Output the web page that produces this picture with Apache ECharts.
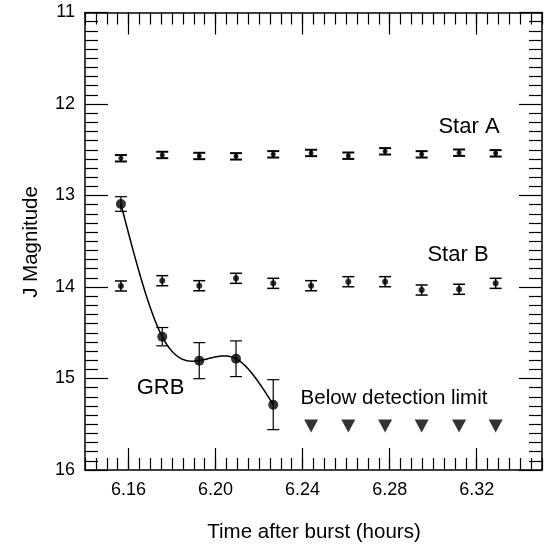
<!DOCTYPE html>
<html>
<head>
<meta charset="utf-8">
<script src="https://cdn.jsdelivr.net/npm/echarts@6/dist/echarts.min.js"></script>
<style>
  html, body { margin: 0; padding: 0; background: #fff; }
  #chart { width: 551px; height: 547px; }
</style>
</head>
<body>
<div id="chart"></div>
<script>
// observation times (hours after burst)
var times = [6.1565, 6.1755, 6.1925, 6.2094, 6.2265, 6.2439, 6.2610, 6.2779, 6.2947, 6.3119, 6.3287]
var starA = [12.593, 12.557, 12.568, 12.572, 12.550, 12.535, 12.565, 12.517, 12.550, 12.532, 12.539]
var starAErr = [0.035, 0.035, 0.035, 0.035, 0.035, 0.035, 0.035, 0.035, 0.035, 0.035, 0.035]
var starB = [13.989, 13.931, 13.986, 13.905, 13.960, 13.986, 13.942, 13.942, 14.033, 14.025, 13.960]
var starBErr = [0.055, 0.055, 0.055, 0.055, 0.055, 0.055, 0.055, 0.055, 0.055, 0.055, 0.055]
var grbTimes = [6.1565, 6.1755, 6.1925, 6.2094, 6.2265]
var grb = [13.093, 14.543, 14.805, 14.784, 15.286]
var grbErr = [0.08, 0.1, 0.197, 0.195, 0.273]
var limitTimes = [6.2439, 6.2610, 6.2779, 6.2947, 6.3119, 6.3287]
var limitMag = [15.52, 15.52, 15.52, 15.52, 15.52, 15.52]
var majorX = [6.16, 6.20, 6.24, 6.28, 6.32]

var font = 'Liberation Sans, Arial, Helvetica, sans-serif'

// natural cubic spline through the GRB points, returns f(t)
function naturalSpline(xs, ys) {
  var n = xs.length
  var h = [], alpha = [], l = [1], mu = [0], z = [0]
  var b = [], c = [], d = []
  for (var i = 0; i < n - 1; i++) h[i] = xs[i + 1] - xs[i]
  for (i = 1; i < n - 1; i++) {
    alpha[i] = 3 / h[i] * (ys[i + 1] - ys[i]) - 3 / h[i - 1] * (ys[i] - ys[i - 1])
    l[i] = 2 * (xs[i + 1] - xs[i - 1]) - h[i - 1] * mu[i - 1]
    mu[i] = h[i] / l[i]
    z[i] = (alpha[i] - h[i - 1] * z[i - 1]) / l[i]
  }
  c[n - 1] = 0
  for (var j = n - 2; j >= 0; j--) {
    c[j] = z[j] - mu[j] * c[j + 1]
    b[j] = (ys[j + 1] - ys[j]) / h[j] - h[j] * (c[j + 1] + 2 * c[j]) / 3
    d[j] = (c[j + 1] - c[j]) / (3 * h[j])
  }
  return function(t) {
    var k = 0
    while (k < n - 2 && t > xs[k + 1]) k++
    var dx = t - xs[k]
    return ys[k] + b[k] * dx + c[k] * dx * dx + d[k] * dx * dx * dx
  }
}

function errorBars(xs, vals, errs, capHalf, width) {
  return {
    type: 'custom',
    z: 3,
    encode: { x: 0, y: [1, 2] },
    data: xs.map(function(t, i) { return [t, vals[i] - errs[i], vals[i] + errs[i]] }),
    renderItem: function(params, api) {
      var x = api.value(0)
      var top = api.coord([x, api.value(1)])
      var bottom = api.coord([x, api.value(2)])
      var style = { stroke: '#000', lineWidth: width }
      return {
        type: 'group',
        children: [
          { type: 'line', shape: { x1: top[0], y1: top[1], x2: bottom[0], y2: bottom[1] }, style: style },
          { type: 'line', shape: { x1: top[0] - capHalf, y1: top[1], x2: top[0] + capHalf, y2: top[1] }, style: style },
          { type: 'line', shape: { x1: bottom[0] - capHalf, y1: bottom[1], x2: bottom[0] + capHalf, y2: bottom[1] }, style: style }
        ]
      }
    }
  }
}

function minorX(pos) {
  return {
    type: 'value', position: pos, min: 6.14, max: 6.35, interval: 0.005,
    axisLine: { show: true, onZero: false, lineStyle: { color: '#000', width: 1.5 } },
    axisTick: { show: true, inside: true, length: 12, lineStyle: { color: '#000', width: 1.2 } },
    axisLabel: { show: false },
    splitLine: { show: false }
  }
}

function majorXAxis(pos, labels) {
  return {
    type: 'value', position: pos, min: 6.14, max: 6.35,
    axisLine: { show: false },
    axisTick: { show: true, inside: true, length: 22, customValues: majorX, lineStyle: { color: '#000', width: 1.2 } },
    axisLabel: {
      show: labels, customValues: majorX, margin: 11, color: '#000', fontSize: 18, fontFamily: font,
      formatter: function(v) { return v.toFixed(2) }
    },
    splitLine: { show: false }
  }
}

function yAxis(pos, labels) {
  return {
    type: 'value', position: pos, inverse: true, min: 11, max: 16, interval: 1,
    axisLine: { show: true, onZero: false, lineStyle: { color: '#000', width: 1.5 } },
    axisTick: { show: true, inside: true, length: 23, lineStyle: { color: '#000', width: 1.2 } },
    minorTick: { show: true, splitNumber: 10, length: 13, lineStyle: { color: '#000', width: 1.2 } },
    axisLabel: { show: labels, margin: 10, color: '#000', fontSize: 18, fontFamily: font },
    splitLine: { show: false },
    minorSplitLine: { show: false }
  }
}

var grbCurve = naturalSpline(grbTimes, grb)

var chart = echarts.init(document.getElementById('chart'))
chart.setOption({
  animation: false,
  backgroundColor: '#fff',
  grid: { left: 85, right: 9, top: 12.5, bottom: 77 },
  xAxis: [minorX('bottom'), majorXAxis('bottom', true), minorX('top'), majorXAxis('top', false)],
  yAxis: [yAxis('left', true), yAxis('right', false)],
  graphic: [
    { type: 'text', x: 314, y: 532, style: { text: 'Time after burst (hours)', fontSize: 20.5, fontFamily: font, fill: '#000', textAlign: 'center', textVerticalAlign: 'middle' } },
    { type: 'text', x: 31, y: 242, rotation: Math.PI / 2, style: { text: 'J Magnitude', fontSize: 20.5, fontFamily: font, fill: '#000', textAlign: 'center', textVerticalAlign: 'middle' } },
    { type: 'text', x: 469, y: 127, style: { text: 'Star A', fontSize: 22, fontFamily: font, fill: '#000', textAlign: 'center', textVerticalAlign: 'middle' } },
    { type: 'text', x: 458, y: 255, style: { text: 'Star B', fontSize: 22, fontFamily: font, fill: '#000', textAlign: 'center', textVerticalAlign: 'middle' } },
    { type: 'text', x: 160.5, y: 388, style: { text: 'GRB', fontSize: 22, fontFamily: font, fill: '#000', textAlign: 'center', textVerticalAlign: 'middle' } },
    { type: 'text', x: 394, y: 398, style: { text: 'Below detection limit', fontSize: 20.5, fontFamily: font, fill: '#000', textAlign: 'center', textVerticalAlign: 'middle' } }
  ],
  series: [
    errorBars(times, starA, starAErr, 6, 2),
    errorBars(times, starB, starBErr, 6, 1.5),
    errorBars(grbTimes, grb, grbErr, 6, 1.2),
    {
      // spline through the GRB points
      type: 'custom', z: 3,
      encode: { x: 0, y: 1 },
      data: [[grbTimes[0], grb[0]]],
      renderItem: function(params, api) {
        var pts = []
        var t0 = grbTimes[0], t1 = grbTimes[grbTimes.length - 1]
        for (var s = 0; s <= 200; s++) {
          var t = t0 + (t1 - t0) * s / 200
          pts.push(api.coord([t, grbCurve(t)]))
        }
        return { type: 'polyline', shape: { points: pts }, style: { stroke: '#000', lineWidth: 1.5, fill: null } }
      }
    },
    {
      type: 'scatter', z: 4, symbol: 'circle', symbolSize: 5,
      itemStyle: { color: '#000' },
      data: times.map(function(t, i) { return [t, starA[i]] })
    },
    {
      type: 'scatter', z: 4, symbol: 'circle', symbolSize: 6,
      itemStyle: { color: '#000' },
      data: times.map(function(t, i) { return [t, starB[i]] })
    },
    {
      type: 'scatter', z: 4, symbol: 'circle', symbolSize: 10,
      itemStyle: { color: '#000' },
      data: grbTimes.map(function(t, i) { return [t, grb[i]] })
    },
    {
      type: 'scatter', z: 4, symbol: 'triangle', symbolRotate: 180, symbolSize: [14, 13],
      itemStyle: { color: '#000' },
      data: limitTimes.map(function(t, i) { return [t, limitMag[i]] })
    }
  ]
})
</script>
</body>
</html>
